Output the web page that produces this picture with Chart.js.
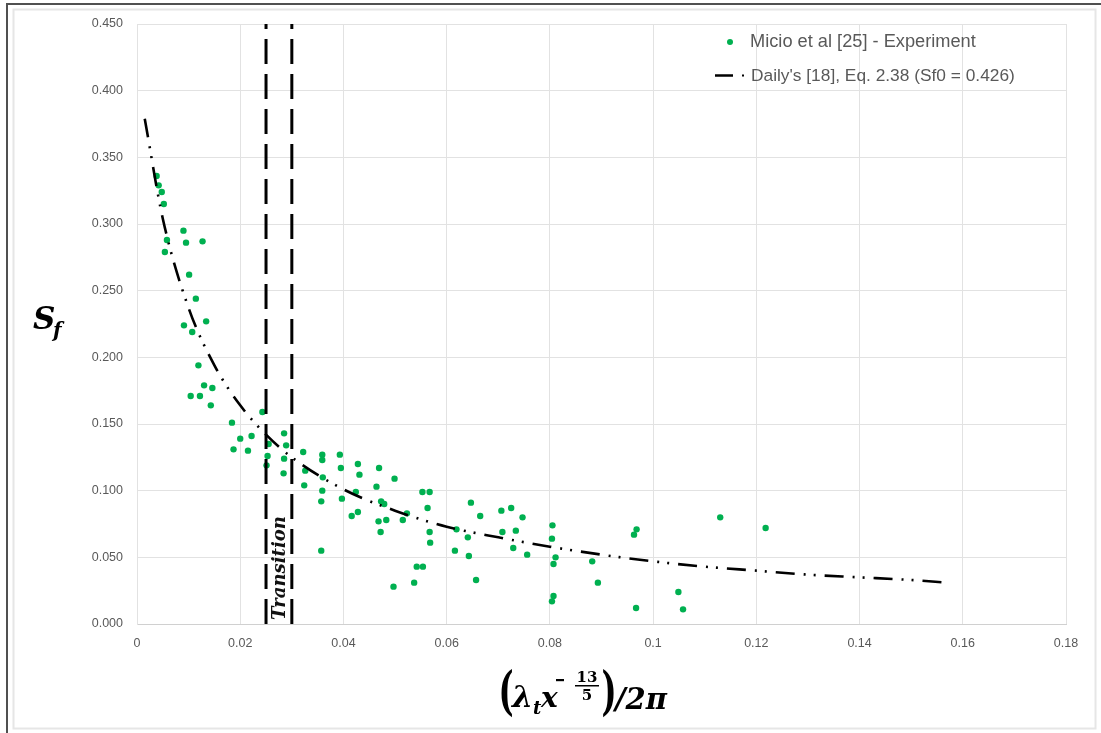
<!DOCTYPE html>
<html><head><meta charset="utf-8">
<script src="https://cdn.jsdelivr.net/npm/chart.js@4.4.1/dist/chart.umd.min.js"></script>
<style>html,body{margin:0;padding:0;background:#fff;overflow:hidden}#wrap{width:1101px;height:733px;position:relative}</style>
</head><body><div id="wrap"><canvas id="c" width="1101" height="733"></canvas></div>
<script>
// ---- data ----
const expX = [0.0038,0.0042,0.0048,0.0052,0.0090,0.0058,0.0095,0.0127,0.0054,0.0101,
  0.0114,0.0091,0.0134,0.0107,0.0119,0.0130,0.0146,0.0104,0.0122,0.0143,
  0.0184,0.0243,0.0200,0.0222,0.0187,0.0215,0.0285,0.0255,0.0289,0.0253,
  0.0285,0.0251,0.0284,0.0322,0.0326,0.0324,0.0359,0.0359,0.0393,0.0395,
  0.0360,0.0359,0.0357,0.0397,0.0428,0.0431,0.0424,0.0416,0.0428,0.0469,
  0.0464,0.0473,0.0479,0.0468,0.0483,0.0472,0.0499,0.0523,0.0515,0.0357,
  0.0497,0.0537,0.0542,0.0554,0.0553,0.0567,0.0563,0.0567,0.0568,0.0647,
  0.0665,0.0619,0.0641,0.0616,0.0643,0.0657,0.0706,0.0725,0.0747,0.0708,
  0.0734,0.0729,0.0756,0.0805,0.0804,0.0811,0.0807,0.0807,0.0804,0.0882,
  0.0893,0.0968,0.0963,0.0967,0.1049,0.1058,0.1130,0.1218];
const expY = [0.336,0.329,0.324,0.315,0.295,0.288,0.286,0.287,0.279,0.262,
  0.244,0.224,0.227,0.219,0.194,0.179,0.177,0.171,0.171,0.164,
  0.151,0.159,0.139,0.141,0.131,0.130,0.143,0.135,0.134,0.126,
  0.124,0.119,0.113,0.129,0.115,0.104,0.127,0.123,0.127,0.117,
  0.110,0.100,0.092,0.094,0.120,0.112,0.099,0.081,0.084,0.117,
  0.103,0.092,0.090,0.077,0.078,0.069,0.109,0.083,0.078,0.055,
  0.028,0.031,0.043,0.043,0.099,0.099,0.087,0.069,0.061,0.091,
  0.081,0.071,0.065,0.055,0.051,0.033,0.085,0.087,0.080,0.069,
  0.070,0.057,0.052,0.074,0.064,0.050,0.045,0.021,0.017,0.047,
  0.031,0.071,0.067,0.012,0.024,0.011,0.080,0.072];
const curveX = [0.0015,0.005,0.01,0.015,0.02,0.025,0.03,0.04,0.05,0.06,0.07,0.08,0.09,0.10,0.11,0.12,0.13,0.14,0.15,0.157];
const curveY = [0.379,0.304,0.237,0.194,0.164,0.142,0.125,0.101,0.085,0.073,0.065,0.058,0.052,0.047,0.043,0.040,0.037,0.035,0.033,0.031];
const transitionX = [0.025, 0.03];
const xTicks = [0,0.02,0.04,0.06,0.08,0.1,0.12,0.14,0.16,0.18];
const yTicks = [0,0.05,0.1,0.15,0.2,0.25,0.3,0.35,0.4,0.45];
const seriesNames = ["Micio et al [25] - Experiment", "Daily's [18], Eq. 2.38 (Sf0 = 0.426)"];
const transitionLabel = "Transition";

const GREEN = '#00b050';
const CURVE_DASH = [19,9,2,8,2,9];
const pts = (xs, ys) => xs.map((x,i)=>({x, y: ys[i]}));

const decor = {
  id: 'decor',
  beforeDraw(chart){
    const c = chart.ctx;
    c.save();
    c.fillStyle = '#fff'; c.fillRect(0,0,chart.width,chart.height);
    c.strokeStyle = '#e6e6e6'; c.lineWidth = 2;
    c.strokeRect(13.5, 9.5, 1082, 719);
    c.strokeStyle = '#505050'; c.lineWidth = 2;
    c.beginPath(); c.moveTo(7, 733); c.lineTo(7, 4); c.lineTo(1101, 4); c.stroke();
    c.restore();
  },
  afterDraw(chart){
    const c = chart.ctx;
    const xs = chart.scales.x, ys = chart.scales.y;
    c.save();
    // Legend
    const fit = (txt, family, weight, target, base) => {
      c.font = `${weight} ${base}px ${family}`;
      const w = c.measureText(txt).width;
      return base * target / w;
    };
    c.fillStyle = '#595959';
    c.textBaseline = 'middle'; c.textAlign = 'left';
    let fs = fit(seriesNames[0], '"Liberation Sans"', 'normal', 226, 16);
    c.font = `normal ${fs}px "Liberation Sans"`;
    c.fillText(seriesNames[0], 750, 42);
    fs = fit(seriesNames[1], '"Liberation Sans"', 'normal', 264, 16);
    c.font = `normal ${fs}px "Liberation Sans"`;
    c.fillText(seriesNames[1], 751, 76);
    c.fillStyle = GREEN;
    c.beginPath(); c.arc(730, 42, 3, 0, Math.PI*2); c.fill();
    c.strokeStyle = '#000'; c.lineWidth = 2.5;
    c.beginPath(); c.moveTo(715, 75.5); c.lineTo(733, 75.5); c.stroke();
    c.fillStyle = '#000';
    c.fillRect(742, 74.5, 2, 2);

    // Transition label
    const tx = (xs.getPixelForValue(transitionX[0]) + xs.getPixelForValue(transitionX[1]))/2;
    fs = fit(transitionLabel, '"DejaVu Serif"', 'italic bold', 104, 18);
    c.save();
    c.translate(tx + 1, 568);
    c.rotate(-Math.PI/2);
    c.font = `italic bold ${fs}px "DejaVu Serif"`;
    c.fillStyle = '#111';
    c.textAlign = 'center'; c.textBaseline = 'middle';
    c.fillText(transitionLabel, 0, 0);
    c.restore();

    // Y axis title S_f
    c.fillStyle = '#000';
    c.textAlign = 'left'; c.textBaseline = 'alphabetic';
    c.font = 'italic bold 31px "DejaVu Serif"';
    c.fillText('S', 33, 329);
    c.font = 'italic bold 20px "DejaVu Serif"';
    c.fillText('f', 53, 337);

    // X axis title
    const big = (ch, cx, cy) => {
      c.save();
      c.translate(cx, cy);
      c.scale(0.8, 1.3);
      c.font = 'bold 40px "DejaVu Serif"';
      c.textAlign = 'center'; c.textBaseline = 'middle';
      c.fillText(ch, 0, 0);
      c.restore();
    };
    big('(', 506, 695);
    c.font = 'italic bold 30px "DejaVu Serif"';
    c.fillText('λ', 512, 707);
    c.font = 'italic bold 18px "DejaVu Serif"';
    c.fillText('t', 533, 714);
    c.font = 'italic bold 28px "DejaVu Serif"';
    c.fillText('x', 541, 707);
    c.fillRect(556, 679, 8, 2.2);
    c.textAlign = 'center';
    c.font = 'bold 15px "DejaVu Serif"';
    c.fillText('13', 587, 682);
    c.fillRect(575, 685, 24, 1.5);
    c.fillText('5', 587, 700);
    big(')', 609, 695);
    c.textAlign = 'left';
    c.font = 'italic bold 29px "DejaVu Serif"';
    c.fillText('/2π', 615, 709);
    c.restore();
  }
};

new Chart(document.getElementById('c'), {
  type: 'scatter',
  data: {
    datasets: [
      { label: seriesNames[0], data: pts(expX, expY), backgroundColor: GREEN, borderColor: GREEN,
        pointRadius: 3.2, pointBorderWidth: 0, pointHoverRadius: 3.2, order: 2 },
      { label: seriesNames[1], data: pts(curveX, curveY), showLine: true, pointRadius: 0,
        borderColor: '#000', borderWidth: 2.6, borderDash: CURVE_DASH, cubicInterpolationMode: 'monotone',
        fill: false, order: 1 },
      { label: 'T1', data: [{x: transitionX[0], y: yTicks[0]}, {x: transitionX[0], y: yTicks[yTicks.length-1]}],
        showLine: true, pointRadius: 0, borderColor: '#000', borderWidth: 3, borderDash: [25,10], order: 0 },
      { label: 'T2', data: [{x: transitionX[1], y: yTicks[0]}, {x: transitionX[1], y: yTicks[yTicks.length-1]}],
        showLine: true, pointRadius: 0, borderColor: '#000', borderWidth: 3, borderDash: [25,10], order: 0 }
    ]
  },
  options: {
    responsive: false, animation: false, devicePixelRatio: 1,
    layout: { padding: { left: 0, top: 24, right: 35, bottom: 0 } },
    plugins: { legend: { display: false }, tooltip: { enabled: false } },
    scales: {
      x: {
        type: 'linear', min: xTicks[0], max: xTicks[xTicks.length-1],
        afterBuildTicks: s => { s.ticks = xTicks.map(v => ({value: v})); },
        afterFit: s => { s.height = 109; },
        ticks: { color: '#595959', font: { family: '"Liberation Sans"', size: 12.5 }, padding: 12,
          callback: v => String(Number(v.toFixed(2))) , maxRotation: 0, autoSkip: false },
        grid: { color: '#e2e2e2', drawTicks: false, lineWidth: 1 },
        border: { color: '#d0d0d0' }
      },
      y: {
        type: 'linear', min: yTicks[0], max: yTicks[yTicks.length-1],
        afterBuildTicks: s => { s.ticks = yTicks.map(v => ({value: v})); },
        afterFit: s => { s.width = 137; },
        ticks: { color: '#595959', font: { family: '"Liberation Sans"', size: 12.5 }, padding: 14,
          callback: v => Number(v).toFixed(3), autoSkip: false },
        grid: { color: '#e2e2e2', drawTicks: false, lineWidth: 1 },
        border: { color: '#e2e2e2' }
      }
    }
  },
  plugins: [decor]
});
</script></body></html>
